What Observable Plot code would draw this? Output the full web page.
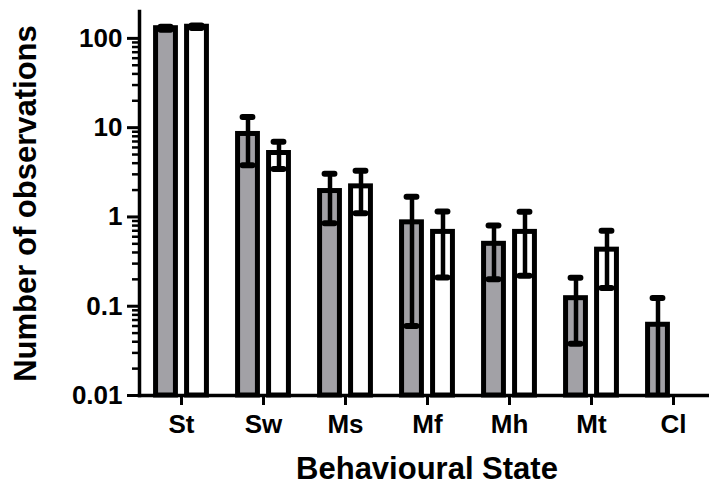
<!DOCTYPE html>
<html><head><meta charset="utf-8">
<script src="https://cdn.jsdelivr.net/npm/d3@7"></script>
<script src="https://cdn.jsdelivr.net/npm/@observablehq/plot@0.6"></script>
<style>html,body{margin:0;padding:0;background:#fff} svg{display:block}</style>
</head><body><div id="chart"></div>
<script>
const categories = ["St", "Sw", "Ms", "Mf", "Mh", "Mt", "Cl"];
const grayMean  = [130, 8.5, 1.95, 0.87, 0.50, 0.123, 0.062];
const grayErr   = [5,   4.7, 1.10, 0.81, 0.30, 0.085, 0.062];
const whiteMean = [135, 5.2, 2.20, 0.68, 0.68, 0.43, 0];
const whiteErr  = [4,   1.75, 1.10, 0.47, 0.46, 0.27, 0];
const yTicks = [0.01, 0.1, 1, 10, 100];
const yTickLabels = ["0.01", "0.1", "1", "10", "100"];
const xTitle = "Behavioural State";
const yTitle = "Number of observations";

const yMin = 0.01, yMax = 200;
const minorTicks = [];
for (const d of [0.01, 0.1, 1, 10]) for (let k = 2; k <= 9; k++) minorTicks.push(+(d * k).toPrecision(3));

const rows = (means, errs) => categories.map((c, i) => ({cat: c, mean: means[i], err: errs[i]})).filter(d => d.mean > 0);
const gray = rows(grayMean, grayErr);
const white = rows(whiteMean, whiteErr);

const step = (714 - 139) / categories.length;
const barInset = (step - 20) / 2;
const capInset = (step - 10) / 2;

function group(data, dx, fill) {
  return [
    Plot.barY(data, {x: "cat", y1: () => yMin, y2: "mean", dx, fill, stroke: "black", strokeWidth: 5, insetLeft: barInset, insetRight: barInset}),
    Plot.ruleX(data, {x: "cat", y1: d => Math.max(d.mean - d.err, yMin), y2: d => d.mean + d.err, dx, stroke: "black", strokeWidth: 4.5}),
    Plot.tickY(data, {x: "cat", y: d => d.mean + d.err, dx, stroke: "black", strokeWidth: 6, strokeLinecap: "round", insetLeft: capInset, insetRight: capInset}),
    Plot.tickY(data.filter(d => d.mean - d.err > yMin), {x: "cat", y: d => d.mean - d.err, dx, stroke: "black", strokeWidth: 6, strokeLinecap: "round", insetLeft: capInset, insetRight: capInset})
  ];
}

const chart = Plot.plot({
  width: 709,
  height: 485,
  marginLeft: 139,
  marginRight: 0,
  marginTop: 11,
  marginBottom: 90,
  style: {fontFamily: "'Liberation Sans', Arial, sans-serif", background: "white", color: "black"},
  x: {domain: categories, range: [139, 714], padding: 0, label: null},
  y: {type: "log", domain: [yMin, yMax], label: null},
  marks: [
    ...group(gray, -15.5, "#a2a1a6"),
    ...group(white, 15.5, "white"),
    Plot.axisY(minorTicks, {tickSize: 7, strokeWidth: 2.5, tickFormat: () => "", label: null}),
    Plot.axisY(yTicks, {tickSize: 12, tickPadding: 5, strokeWidth: 3, fontSize: 26, fontWeight: "bold", tickFormat: d => yTickLabels[yTicks.indexOf(d)], label: null}),
    Plot.axisX({tickSize: 10, tickPadding: 9.5, strokeWidth: 3, fontSize: 26, fontWeight: "bold", label: null}),
    Plot.frame({anchor: "left", strokeWidth: 3.5}),
    Plot.frame({anchor: "bottom", strokeWidth: 3.5}),
    Plot.text([xTitle], {frameAnchor: "bottom", dx: 2.5, dy: 83, lineAnchor: "bottom", fontSize: 31, fontWeight: "bold"}),
    Plot.text([yTitle], {frameAnchor: "left", rotate: -90, dx: -104, textAnchor: "middle", lineAnchor: "bottom", fontSize: 31, fontWeight: "bold"})
  ]
});
document.getElementById("chart").appendChild(chart);
</script>
</body></html>
